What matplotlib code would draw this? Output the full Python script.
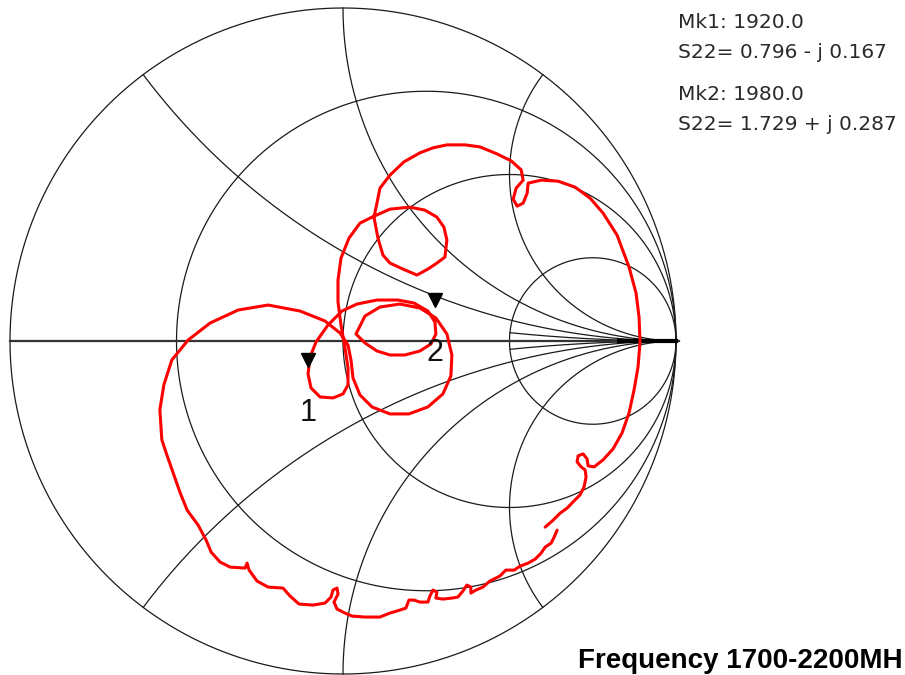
"""
Carta de Smith S22, 1700-2200 MHz
"""
import numpy as np
import matplotlib.pyplot as plt
from matplotlib.transforms import offset_copy

# Traza S22 (coeficiente de reflexion)
trace_re = [0.607, 0.631, 0.652, 0.673, 0.691, 0.712, 0.724, 0.730, 0.727, 0.715,
            0.703, 0.706, 0.721, 0.733, 0.736, 0.754, 0.781, 0.811, 0.838, 0.859,
            0.874, 0.886, 0.892, 0.889, 0.880, 0.859, 0.823, 0.781, 0.742, 0.697,
            0.646, 0.595, 0.556, 0.553, 0.541, 0.523, 0.511, 0.520, 0.541, 0.535,
            0.505, 0.462, 0.411, 0.366, 0.312, 0.270, 0.231, 0.183, 0.141, 0.111,
            0.102, 0.093, 0.105, 0.120, 0.141, 0.180, 0.222, 0.255, 0.282, 0.306,
            0.312, 0.303, 0.282, 0.246, 0.201, 0.141, 0.087, 0.051, 0.018, -0.006,
            -0.015, -0.015, -0.006, 0.006, 0.015, 0.015, 0.000, -0.030, -0.069, -0.096,
            -0.105, -0.099, -0.081, -0.045, -0.003, 0.042, 0.102, 0.165, 0.213, 0.255,
            0.276, 0.279, 0.264, 0.231, 0.186, 0.141, 0.102, 0.066, 0.039,
            0.066, 0.111, 0.171, 0.231, 0.279, 0.312, 0.327, 0.324, 0.300, 0.255,
            0.198, 0.141, 0.087, 0.051, 0.030, 0.024, 0.015, -0.009, -0.054, -0.129,
            -0.225, -0.315, -0.399, -0.465, -0.514, -0.538, -0.550, -0.547, -0.544, -0.529,
            -0.511, -0.489, -0.468, -0.435, -0.411, -0.396, -0.369, -0.339, -0.294, -0.288,
            -0.282, -0.258, -0.225, -0.180, -0.159, -0.132, -0.090, -0.054, -0.036, -0.030,
            -0.018, -0.015, -0.027, -0.018, 0.006, 0.027, 0.066, 0.111, 0.141, 0.171,
            0.189, 0.198, 0.213, 0.231, 0.255, 0.261, 0.270, 0.282, 0.279, 0.300,
            0.327, 0.345, 0.360, 0.372, 0.384, 0.384, 0.399, 0.420, 0.441, 0.471,
            0.489, 0.514, 0.532, 0.556, 0.577, 0.595, 0.607, 0.625, 0.634, 0.643]
trace_im = [-0.559, -0.538, -0.517, -0.502, -0.483, -0.462, -0.438, -0.408, -0.387, -0.378,
            -0.363, -0.345, -0.339, -0.354, -0.375, -0.378, -0.357, -0.324, -0.276, -0.216,
            -0.147, -0.078, -0.003, 0.072, 0.144, 0.222, 0.318, 0.384, 0.429, 0.462,
            0.480, 0.483, 0.474, 0.444, 0.414, 0.405, 0.426, 0.459, 0.483, 0.514,
            0.541, 0.562, 0.583, 0.589, 0.589, 0.580, 0.565, 0.538, 0.498, 0.459,
            0.414, 0.372, 0.309, 0.258, 0.234, 0.216, 0.198, 0.216, 0.234, 0.252,
            0.303, 0.342, 0.372, 0.393, 0.402, 0.396, 0.372, 0.354, 0.309, 0.249,
            0.183, 0.117, 0.048, -0.021, -0.081, -0.132, -0.159, -0.171, -0.168, -0.141,
            -0.099, -0.048, -0.003, 0.048, 0.090, 0.111, 0.123, 0.123, 0.114, 0.090,
            0.057, 0.021, -0.009, -0.030, -0.042, -0.042, -0.030, -0.006, 0.021,
            0.075, 0.102, 0.111, 0.099, 0.069, 0.021, -0.042, -0.105, -0.159, -0.198,
            -0.219, -0.219, -0.198, -0.162, -0.111, -0.057, -0.012, 0.024, 0.060, 0.090,
            0.108, 0.093, 0.054, 0.003, -0.057, -0.132, -0.207, -0.252, -0.297, -0.342,
            -0.393, -0.456, -0.508, -0.553, -0.598, -0.634, -0.664, -0.679, -0.682, -0.667,
            -0.688, -0.721, -0.739, -0.742, -0.766, -0.790, -0.793, -0.787, -0.769, -0.748,
            -0.742, -0.760, -0.784, -0.805, -0.817, -0.826, -0.829, -0.829, -0.817, -0.808,
            -0.802, -0.778, -0.778, -0.784, -0.784, -0.766, -0.748, -0.754, -0.772, -0.775,
            -0.772, -0.769, -0.751, -0.733, -0.739, -0.757, -0.748, -0.739, -0.721, -0.706,
            -0.688, -0.688, -0.676, -0.667, -0.655, -0.637, -0.619, -0.607, -0.589, -0.568]

# Marcadores (impedancia normalizada)
marker_labels = ['1', '2']
marker_freq = [1920.0, 1980.0]
marker_z = [0.796 - 0.167j, 1.729 + 0.287j]

# Rejilla de la carta
r_values = [1/3, 1, 3]
x_values = [0.5, 1, 2]
x_short = 0.2   # arco corto desde r=3

fig = plt.figure(figsize=(9.05, 6.75), dpi=100)
ax = fig.add_axes([0, 0, 1, 1])
ax.set_xlim(-343/333, 562/333)
ax.set_ylim(-334/333, 341/333)
ax.axis('off')

grid_kw = dict(color='#1a1a1a', linewidth=0.9, zorder=1)

t = np.linspace(0, 2*np.pi, 721)
ax.plot(np.cos(t), np.sin(t), **grid_kw)
for r in r_values:
    c = r / (1 + r)
    rad = 1 / (1 + r)
    ax.plot(c + rad*np.cos(t), rad*np.sin(t), **grid_kw)

rr = np.concatenate([np.linspace(0, 1, 300), np.logspace(0, 5, 600)])
for x in x_values:
    for s in (1, -1):
        z = rr + 1j*s*x
        g = (z - 1) / (z + 1)
        ax.plot(g.real, g.imag, **grid_kw)
rr2 = np.logspace(np.log10(3), 5, 400)
for s in (1, -1):
    z = rr2 + 1j*s*x_short
    g = (z - 1) / (z + 1)
    ax.plot(g.real, g.imag, **grid_kw)

ax.plot([-1, 1.01], [0, 0], color='#333333', linewidth=1.6, zorder=1)
ax.plot([0.83, 1.0], [0, 0], color='black', linewidth=3, zorder=1)

# Traza
ax.plot(trace_re, trace_im, color='#ff0000', linewidth=2.2, zorder=3,
        solid_joinstyle='round', solid_capstyle='round')

# Marcadores
tri_tr = offset_copy(ax.transData, fig=fig, x=0, y=11, units='points')
lab_tr = offset_copy(ax.transData, fig=fig, x=0, y=-27, units='points')
for lab, z in zip(marker_labels, marker_z):
    g = (z - 1) / (z + 1)
    ax.plot(g.real, g.imag, marker='v', markersize=10, color='black',
            transform=tri_tr, zorder=4)
    ax.text(g.real, g.imag, lab, transform=lab_tr, ha='center', va='center',
            fontsize=22, family='Liberation Sans', color='#111111', zorder=4)

# Texto de marcadores
txt_kw = dict(fontsize=14.5, family='DejaVu Sans', color='#2a2a2a', ha='left', va='center')
ys = [22, 53, 95, 124]
lines = []
for f, z in zip(marker_freq, marker_z):
    sign = '+' if z.imag >= 0 else '-'
    lines.append(f'Mk{len(lines)//2 + 1}: {f:.1f}')
    lines.append(f'S22= {z.real:.3f} {sign} j {abs(z.imag):.3f}')
for y, s in zip(ys, lines):
    fig.text(678/905, 1 - y/675, s, **txt_kw)

fig.text(578/905, 1 - 668/675, 'Frequency 1700-2200MH', fontsize=20,
         family='Liberation Sans', fontweight='bold', color='black',
         ha='left', va='baseline')

plt.savefig('out.png', dpi=100)
